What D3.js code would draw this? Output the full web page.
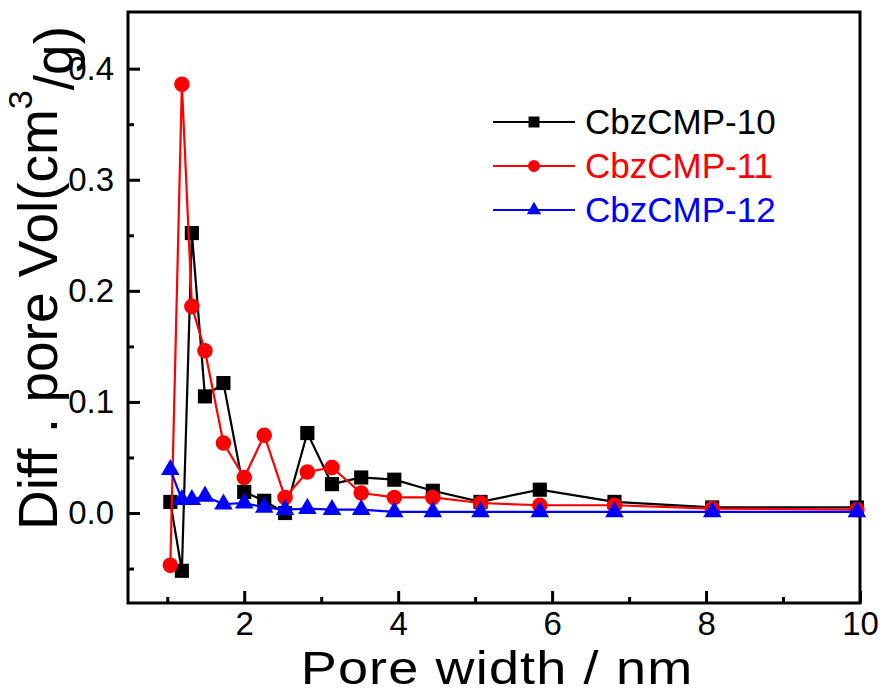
<!DOCTYPE html>
<html>
<head>
<meta charset="utf-8">
<script src="https://cdn.jsdelivr.net/npm/d3@7/dist/d3.min.js"></script>
<style>
  body { margin: 0; background: #fff; }
  text { font-family: "Liberation Sans", Arial, sans-serif; }
</style>
</head>
<body>
<svg width="882" height="693"></svg>
<script>
// pore width (nm), shared by all three samples
var poreWidth = [1.04, 1.19, 1.32, 1.49, 1.73, 2.0, 2.26, 2.53, 2.82, 3.14, 3.52, 3.95, 4.45, 5.07, 5.84, 6.81, 8.08, 9.96];

var cmp10 = [0.010, -0.052, 0.252, 0.105, 0.117, 0.019, 0.011, 0.000, 0.072, 0.026, 0.032, 0.030, 0.020, 0.010, 0.021, 0.010, 0.005, 0.005];
var cmp11 = [-0.047, 0.386, 0.186, 0.146, 0.063, 0.032, 0.070, 0.014, 0.037, 0.041, 0.018, 0.014, 0.014, 0.009, 0.007, 0.007, 0.004, 0.003];
var cmp12 = [0.039, 0.012, 0.012, 0.015, 0.008, 0.009, 0.005, 0.003, 0.004, 0.003, 0.003, 0.001, 0.001, 0.001, 0.001, 0.001, 0.001, 0.001];

var seriesNames = ["CbzCMP-10", "CbzCMP-11", "CbzCMP-12"];
var xTicks = [2, 4, 6, 8, 10];
var yTicks = [0.0, 0.1, 0.2, 0.3, 0.4];

var series = [
    {name: seriesNames[0], values: cmp10, color: "#000000", symbol: d3.symbolSquare, size: 200},
    {name: seriesNames[1], values: cmp11, color: "#ff0000", symbol: d3.symbolCircle, size: 190},
    {name: seriesNames[2], values: cmp12, color: "#0000ff", symbol: d3.symbolTriangle, size: 150}
];

var svg = d3.select("svg");
var margin = {top: 12, right: 22, bottom: 90, left: 128};
var width = +svg.attr("width") - margin.left - margin.right;
var height = +svg.attr("height") - margin.top - margin.bottom;

var g = svg.append("g")
    .attr("transform", "translate(" + margin.left + "," + margin.top + ")");

var x = d3.scaleLinear().domain([0.49, 10]).range([0, width]);
var y = d3.scaleLinear().domain([-0.081, 0.451]).range([height, 0]);

// inward ticks, minor ones half as long
var xAxis = d3.axisBottom(x).tickValues(xTicks).tickSizeInner(-12).tickSizeOuter(0)
    .tickPadding(9).tickFormat(d3.format("d"));
var xMinor = d3.axisBottom(x).tickValues([1, 3, 5, 7, 9]).tickSizeInner(-6).tickSizeOuter(0).tickFormat("");
var yAxis = d3.axisLeft(y).tickValues(yTicks).tickSizeInner(-12).tickSizeOuter(0)
    .tickPadding(14).tickFormat(d3.format(".1f"));
var yMinor = d3.axisLeft(y).tickValues([-0.05, 0.05, 0.15, 0.25, 0.35]).tickSizeInner(-6).tickSizeOuter(0).tickFormat("");

g.append("g").attr("class", "axis").attr("transform", "translate(0," + height + ")").call(xAxis);
g.append("g").attr("class", "axis").attr("transform", "translate(0," + height + ")").call(xMinor);
g.append("g").attr("class", "axis").call(yAxis);
g.append("g").attr("class", "axis").call(yMinor);

g.selectAll(".axis path").remove();
g.selectAll(".axis line").attr("stroke", "#000").attr("stroke-width", 3);
g.selectAll(".axis text").attr("fill", "#000").style("font-size", "33px");

// frame
g.append("rect")
    .attr("width", width)
    .attr("height", height)
    .attr("fill", "none")
    .attr("stroke", "#000")
    .attr("stroke-width", 3);

var line = d3.line()
    .x(function(d) { return x(d[0]); })
    .y(function(d) { return y(d[1]); });

series.forEach(function(s) {
    var pts = poreWidth.map(function(w, i) { return [w, s.values[i]]; });
    g.append("path")
        .datum(pts)
        .attr("fill", "none")
        .attr("stroke", s.color)
        .attr("stroke-width", 2.2)
        .attr("d", line);
    g.selectAll(null)
        .data(pts)
        .enter().append("path")
        .attr("transform", function(d) { return "translate(" + x(d[0]) + "," + y(d[1]) + ")"; })
        .attr("d", d3.symbol().type(s.symbol).size(s.size))
        .attr("fill", s.color);
});

// legend
var legend = svg.append("g").attr("transform", "translate(493,122)");
series.forEach(function(s, i) {
    var row = legend.append("g").attr("transform", "translate(0," + (i * 44) + ")");
    row.append("line")
        .attr("x1", 0).attr("x2", 82)
        .attr("stroke", s.color).attr("stroke-width", 2.2);
    row.append("path")
        .attr("transform", "translate(41,0)")
        .attr("d", d3.symbol().type(s.symbol).size(s.size * 0.6))
        .attr("fill", s.color);
    row.append("text")
        .attr("x", 92)
        .attr("dy", "0.35em")
        .attr("fill", s.color)
        .style("font-size", "35px")
        .text(s.name);
});

// axis titles (x title a bit wider than the plain font, as in the original)
svg.append("text")
    .attr("transform", "translate(497,684) scale(1.15,1)")
    .attr("text-anchor", "middle")
    .style("font-size", "47px")
    .style("letter-spacing", "1px")
    .text("Pore width / nm");

var yt = svg.append("text")
    .attr("transform", "translate(57,278) rotate(-90)")
    .attr("text-anchor", "middle")
    .style("font-size", "55px");
yt.append("tspan").text("Diff . pore Vol(cm");
yt.append("tspan").attr("dy", "-0.75em").style("font-size", "34px").text("3");
yt.append("tspan").attr("dy", "0.75em").text("/g)");
</script>
</body>
</html>
